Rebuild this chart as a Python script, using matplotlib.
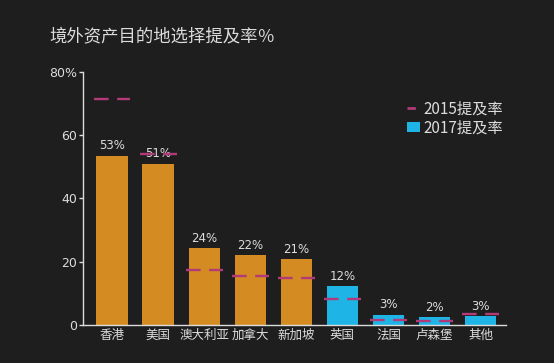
import numpy as np
import matplotlib
matplotlib.use("Agg")
import matplotlib.pyplot as plt
from matplotlib.lines import Line2D
from matplotlib.patches import Patch
import matplotlib.ticker as mticker

plt.rcParams['font.family'] = ['Noto Sans CJK SC', 'DejaVu Sans']

# ---- datos ----
paises = ["香港", "美国", "澳大利亚", "加拿大", "新加坡", "英国", "法国", "卢森堡", "其他"]
tasa_2017 = [53.5, 51, 24.2, 22, 20.8, 12.2, 3.2, 2.5, 2.7]
etiquetas_2017 = ["53%", "51%", "24%", "22%", "21%", "12%", "3%", "2%", "3%"]
tasa_2015 = [71.3, 54.2, 17.4, 15.5, 14.8, 8.2, 1.7, 1.4, 3.4]
y_ticks = [0, 20, 40, 60, 80]

# ---- estilo ----
BG = "#1e1e1e"
TXT = "#dcdcdc"
NARANJA = "#d48b22"
AZUL = "#1eb4e6"
MAGENTA = "#b23a78"

fig = plt.figure(figsize=(5.54, 3.63), dpi=100, facecolor=BG)
ax = fig.add_axes([0.1498, 0.1047, 0.9134 - 0.1498, 0.8017 - 0.1047])
ax.set_facecolor(BG)

x = np.arange(len(paises))
colores = [NARANJA if v > 15 else AZUL for v in tasa_2017]
ancho = 0.68
ax.bar(x, tasa_2017, width=ancho, color=colores, zorder=2)

for xi, v, lab in zip(x, tasa_2017, etiquetas_2017):
    ax.annotate(lab, (xi, v), xytext=(0, 2.5), textcoords="offset points",
                ha="center", va="bottom", color=TXT, fontsize=8.5,
                family=['DejaVu Sans'])

# 2015: segmentos discontinuos
for xi, v in zip(x, tasa_2015):
    ax.plot([xi - 0.4, xi + 0.4], [v, v], color=MAGENTA, lw=1.7,
            linestyle=(0, (6.2, 3.6)), zorder=3, dash_capstyle="butt")

ax.set_xlim(-0.63, 8.55)
ax.set_ylim(0, 80)
ax.set_yticks(y_ticks)
ax.yaxis.set_major_formatter(mticker.FuncFormatter(
    lambda v, p: "80%" if v == 80 else f"{int(v)}"))
ax.set_xticks(x)
ax.set_xticklabels(paises)

for s in ["top", "right"]:
    ax.spines[s].set_visible(False)
for s in ["left", "bottom"]:
    ax.spines[s].set_color(TXT)
    ax.spines[s].set_linewidth(1.0)
ax.tick_params(axis="y", colors=TXT, labelsize=9, length=3, width=1, pad=1)
ax.tick_params(axis="x", colors=TXT, labelsize=9, length=0, pad=3)
for t in ax.get_yticklabels():
    t.set_family(['DejaVu Sans'])

fig.text(0.09, 0.9, "境外资产目的地选择提及率％", color=TXT, fontsize=12.5,
         ha="left", va="center")

handles = [Line2D([0], [0], color=MAGENTA, lw=2, linestyle=(0, (3, 2))),
           Patch(facecolor=AZUL)]
fig.legend(handles, ["2015提及率", "2017提及率"], loc="upper left",
           bbox_to_anchor=(0.72, 0.745), frameon=False, fontsize=11,
           labelcolor=TXT, handlelength=0.9, handletextpad=0.2,
           labelspacing=0.15, borderpad=0)

fig.savefig("out.png", dpi=100, facecolor=BG)
